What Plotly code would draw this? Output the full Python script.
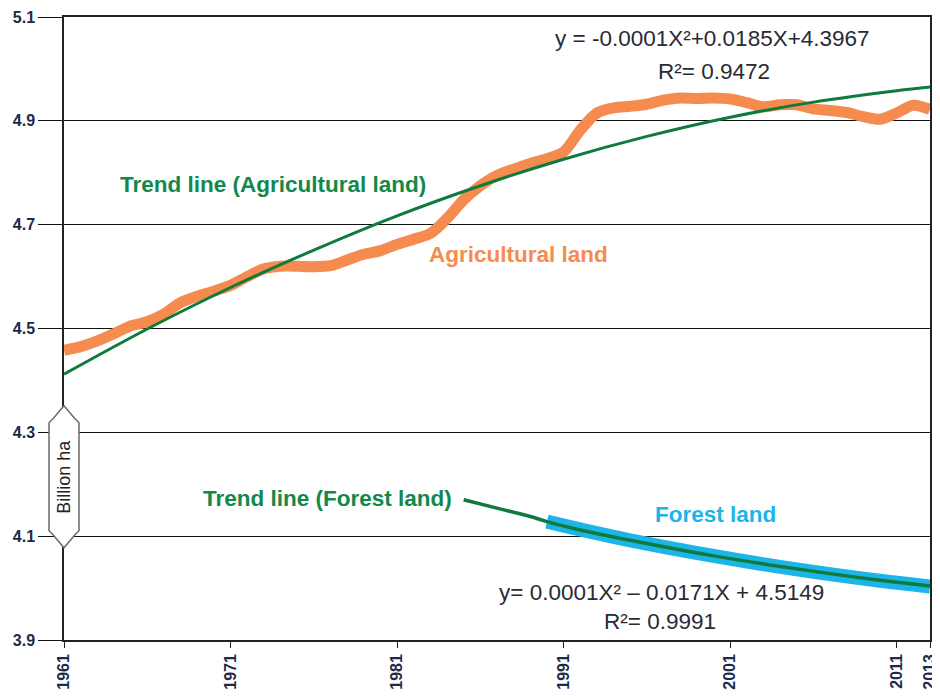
import plotly.graph_objects as go

# ---- data ----
agri_years = list(range(1961, 2014))
agri_values = [4.458, 4.465, 4.476, 4.490, 4.505, 4.513, 4.528, 4.550, 4.562, 4.572,
               4.583, 4.600, 4.615, 4.620, 4.620, 4.619, 4.621, 4.632, 4.643, 4.650,
               4.662, 4.672, 4.683, 4.712, 4.748, 4.775, 4.795, 4.807, 4.818, 4.827,
               4.840, 4.882, 4.915, 4.925, 4.928, 4.932, 4.940, 4.944, 4.943, 4.944,
               4.942, 4.935, 4.927, 4.931, 4.931, 4.923, 4.920, 4.916, 4.908, 4.903,
               4.915, 4.930, 4.922]

agri_trend_years = [1961, 1966, 1971, 1976, 1981, 1986, 1991, 1996, 2001, 2006, 2011, 2013]
agri_trend_values = [4.412, 4.499, 4.579, 4.651, 4.717, 4.775, 4.826, 4.870, 4.907, 4.936, 4.958, 4.965]

forest_years = [1990, 1992, 1995, 2000, 2005, 2010, 2013]
forest_values = [4.128, 4.113, 4.092, 4.062, 4.036, 4.014, 4.003]

forest_trend_years = [1985, 1987, 1989, 1990, 1992, 1995, 2000, 2005, 2010, 2013]
forest_trend_values = [4.170, 4.154, 4.138, 4.128, 4.112, 4.092, 4.062, 4.037, 4.015, 4.004]

x_tick_vals = [1961, 1971, 1981, 1991, 2001, 2011, 2013]
x_tick_text = ["1961", "1971", "1981", "1991", "2001", "2011", "2013"]
y_tick_vals = [3.9, 4.1, 4.3, 4.5, 4.7, 4.9, 5.1]
y_tick_text = ["3.9", "4.1", "4.3", "4.5", "4.7", "4.9", "5.1"]

ORANGE = "#F68B4F"
GREEN = "#0E7A3C"
CYAN = "#1DB4E8"
LABEL_GREEN = "#12884A"
NAVY = "#1E2A4A"
LBL_FONT = "Liberation Sans, Arial, sans-serif"
TICK_FONT = "Liberation Sans, Arial, sans-serif"

fig = go.Figure()
fig.add_trace(go.Scatter(x=agri_years, y=agri_values, mode="lines", line=dict(color=ORANGE, width=11, shape="spline", smoothing=0.8), hoverinfo="skip"))
fig.add_trace(go.Scatter(x=forest_years, y=forest_values, mode="lines", line=dict(color=CYAN, width=14, shape="spline"), hoverinfo="skip"))
fig.add_trace(go.Scatter(x=agri_trend_years, y=agri_trend_values, mode="lines", line=dict(color=GREEN, width=3, shape="spline"), hoverinfo="skip"))
fig.add_trace(go.Scatter(x=forest_trend_years, y=forest_trend_values, mode="lines", line=dict(color=GREEN, width=3.5, shape="spline"), hoverinfo="skip"))

annotations = [
    dict(x=1973.55, y=4.778, text="Trend line (Agricultural land)", font=dict(family=LBL_FONT, size=22.5, color=LABEL_GREEN, weight="bold")),
    dict(x=1988.3, y=4.642, text="Agricultural land", font=dict(family=LBL_FONT, size=22.5, color=ORANGE, weight="bold")),
    dict(x=1976.85, y=4.172, text="Trend line (Forest land)", font=dict(family=LBL_FONT, size=22.5, color=LABEL_GREEN, weight="bold")),
    dict(x=2000.1, y=4.142, text="Forest land", font=dict(family=LBL_FONT, size=22.5, color=CYAN, weight="bold")),
    dict(x=1999.95, y=5.058, text="y = -0.0001X²+0.0185X+4.3967", font=dict(family=LBL_FONT, size=22.5, color="#2A2A35")),
    dict(x=2000.0, y=4.995, text="R²= 0.9472", font=dict(family=LBL_FONT, size=22.5, color="#2A2A35")),
    dict(x=1996.9, y=3.992, text="y= 0.0001X² – 0.0171X + 4.5149", font=dict(family=LBL_FONT, size=22.5, color="#2A2A35")),
    dict(x=1996.8, y=3.935, text="R²= 0.9991", font=dict(family=LBL_FONT, size=22.5, color="#2A2A35")),
]
for a in annotations:
    a.update(xref="x", yref="y", showarrow=False, xanchor="center", yanchor="middle")
    fig.add_annotation(**a)

# "Billion ha" axis-title badge
fig.add_shape(type="path", xref="paper", yref="paper", xsizemode="pixel", ysizemode="pixel",
              xanchor=0, yanchor=0.262,
              path="M 0,71 L 11,58 L 15,54 L 15,-54 L 11,-58 L 0,-71 L -11,-58 L -15,-54 L -15,54 L -11,58 Z",
              fillcolor="white", line=dict(color="#6A6A6A", width=1.5), layer="above")
fig.add_annotation(xref="paper", yref="paper", x=0, y=0.262, text="Billion ha", textangle=-90,
                   xanchor="center", yanchor="middle",
                   showarrow=False, font=dict(family=LBL_FONT, size=18, color="#222222"))

fig.update_layout(
    width=932, height=689,
    margin=dict(l=56, r=10, t=9, b=57),
    paper_bgcolor="white", plot_bgcolor="white",
    showlegend=False,
    xaxis=dict(range=[1961, 2013], tickvals=x_tick_vals, ticktext=x_tick_text, tickangle=-90,
               automargin=False, ticklabeloverflow="allow",
               showgrid=False, zeroline=False, showline=True, linecolor="#222222", linewidth=1.5,
               mirror=True, ticks="outside", ticklen=6, tickcolor="#222222",
               tickfont=dict(family=TICK_FONT, size=16, color=NAVY, weight="bold")),
    yaxis=dict(range=[3.9, 5.1], tickvals=y_tick_vals, ticktext=y_tick_text,
               automargin=False, ticklabeloverflow="allow",
               showgrid=True, gridcolor="#111111", gridwidth=1, zeroline=False,
               showline=True, linecolor="#222222", linewidth=1.5, mirror=True,
               ticks="outside", ticklen=24, tickcolor="#111111",
               tickfont=dict(family=TICK_FONT, size=16, color=NAVY, weight="bold")),
)

fig.write_html("out.html")
